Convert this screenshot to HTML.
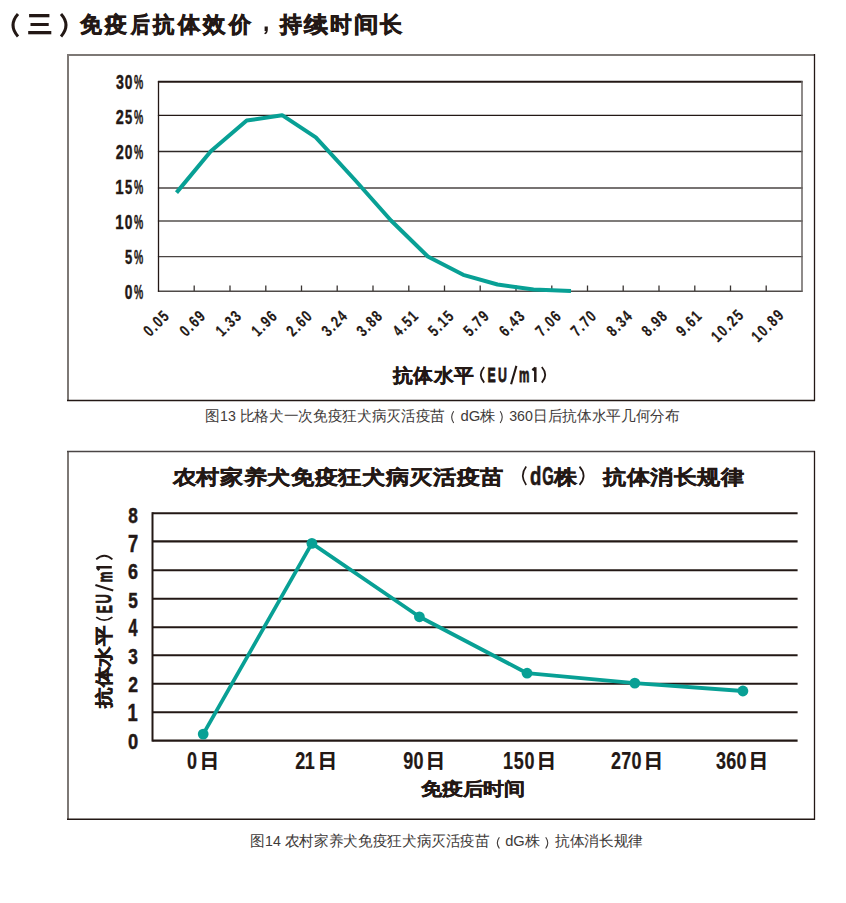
<!DOCTYPE html>
<html><head><meta charset="utf-8"><style>
html,body{margin:0;padding:0;background:#fff;width:846px;height:903px;overflow:hidden}
svg{display:block}
text{font-family:"Liberation Sans",sans-serif}
</style></head><body>
<svg width="846" height="903" viewBox="0 0 846 903">

<path d="M18 14 Q8 25.2 18 36.4" fill="none" stroke="#231815" stroke-width="3"/>
<path d="M61 14 Q71 25.2 61 36.4" fill="none" stroke="#231815" stroke-width="3"/>
<rect x="29.1" y="14" width="20.3" height="3.3" fill="#231815"/>
<rect x="30.5" y="23" width="18.2" height="3" fill="#231815"/>
<rect x="28.2" y="31" width="23.1" height="3.3" fill="#231815"/>
<text transform="translate(80.38,31.70) scale(0.2202,0.2220)" x="0" y="0" font-size="100" font-weight="bold" fill="#231815" stroke="#231815" stroke-width="3.17">免</text>
<text transform="translate(105.32,31.70) scale(0.2214,0.2220)" x="0" y="0" font-size="100" font-weight="bold" fill="#231815" stroke="#231815" stroke-width="3.16">疫</text>
<text transform="translate(130.79,31.70) scale(0.1879,0.2220)" x="0" y="0" font-size="100" font-weight="bold" fill="#231815" stroke="#231815" stroke-width="3.42">后</text>
<text transform="translate(153.43,31.70) scale(0.2149,0.2220)" x="0" y="0" font-size="100" font-weight="bold" fill="#231815" stroke="#231815" stroke-width="3.20">抗</text>
<text transform="translate(177.85,31.70) scale(0.2235,0.2220)" x="0" y="0" font-size="100" font-weight="bold" fill="#231815" stroke="#231815" stroke-width="3.14">体</text>
<text transform="translate(203.22,31.70) scale(0.2248,0.2220)" x="0" y="0" font-size="100" font-weight="bold" fill="#231815" stroke="#231815" stroke-width="3.13">效</text>
<text transform="translate(229.17,31.70) scale(0.2235,0.2220)" x="0" y="0" font-size="100" font-weight="bold" fill="#231815" stroke="#231815" stroke-width="3.14">价</text>
<text transform="translate(280.34,31.70) scale(0.2210,0.2220)" x="0" y="0" font-size="100" font-weight="bold" fill="#231815" stroke="#231815" stroke-width="3.16">持</text>
<text transform="translate(303.74,31.70) scale(0.2400,0.2220)" x="0" y="0" font-size="100" font-weight="bold" fill="#231815" stroke="#231815" stroke-width="3.03">续</text>
<text transform="translate(329.81,31.70) scale(0.2172,0.2220)" x="0" y="0" font-size="100" font-weight="bold" fill="#231815" stroke="#231815" stroke-width="3.19">时</text>
<text transform="translate(354.02,31.70) scale(0.2465,0.2220)" x="0" y="0" font-size="100" font-weight="bold" fill="#231815" stroke="#231815" stroke-width="2.99">间</text>
<text transform="translate(380.10,31.70) scale(0.2232,0.2220)" x="0" y="0" font-size="100" font-weight="bold" fill="#231815" stroke="#231815" stroke-width="3.14">长</text>
<path d="M264.6 26.5 h3.2 v3.2 q0 3.5 -2.8 4.6 l-0.8 -1 q1.6 -0.9 1.7 -2.4 h-1.3 z" fill="#231815"/>
<line x1="68" y1="54" x2="68" y2="401" stroke="#7d7875" stroke-width="2"/>
<line x1="67" y1="55" x2="815" y2="55" stroke="#7d7875" stroke-width="2"/>
<line x1="814.5" y1="54" x2="814.5" y2="401" stroke="#231815" stroke-width="1.3"/>
<line x1="67" y1="400.5" x2="815" y2="400.5" stroke="#231815" stroke-width="1.3"/>
<line x1="157.9" y1="81.7" x2="802.6" y2="81.7" stroke="#231815" stroke-width="2"/>
<line x1="157.9" y1="115.4" x2="802.6" y2="115.4" stroke="#231815" stroke-width="1.4"/>
<line x1="157.9" y1="151.5" x2="802.6" y2="151.5" stroke="#2e2927" stroke-width="1.4"/>
<line x1="157.9" y1="188.0" x2="802.6" y2="188.0" stroke="#4a4543" stroke-width="1.4"/>
<line x1="157.9" y1="221.0" x2="802.6" y2="221.0" stroke="#55504e" stroke-width="1.4"/>
<line x1="157.9" y1="256.6" x2="802.6" y2="256.6" stroke="#4a4543" stroke-width="1.4"/>
<line x1="157.9" y1="291.2" x2="802.6" y2="291.2" stroke="#4f4a48" stroke-width="1.4"/>
<line x1="158.5" y1="81" x2="158.5" y2="291.8" stroke="#231815" stroke-width="1.3"/>
<line x1="802" y1="81" x2="802" y2="291.8" stroke="#6a6563" stroke-width="1.5"/>
<line x1="194.2" y1="285.5" x2="194.2" y2="291" stroke="#3a3533" stroke-width="1.3"/>
<line x1="230.0" y1="285.5" x2="230.0" y2="291" stroke="#3a3533" stroke-width="1.3"/>
<line x1="265.8" y1="285.5" x2="265.8" y2="291" stroke="#3a3533" stroke-width="1.3"/>
<line x1="301.5" y1="285.5" x2="301.5" y2="291" stroke="#3a3533" stroke-width="1.3"/>
<line x1="337.2" y1="285.5" x2="337.2" y2="291" stroke="#3a3533" stroke-width="1.3"/>
<line x1="373.0" y1="285.5" x2="373.0" y2="291" stroke="#3a3533" stroke-width="1.3"/>
<line x1="408.8" y1="285.5" x2="408.8" y2="291" stroke="#3a3533" stroke-width="1.3"/>
<line x1="444.5" y1="285.5" x2="444.5" y2="291" stroke="#3a3533" stroke-width="1.3"/>
<line x1="480.2" y1="285.5" x2="480.2" y2="291" stroke="#3a3533" stroke-width="1.3"/>
<line x1="516.0" y1="285.5" x2="516.0" y2="291" stroke="#3a3533" stroke-width="1.3"/>
<line x1="551.8" y1="285.5" x2="551.8" y2="291" stroke="#3a3533" stroke-width="1.3"/>
<line x1="587.5" y1="285.5" x2="587.5" y2="291" stroke="#3a3533" stroke-width="1.3"/>
<line x1="623.2" y1="285.5" x2="623.2" y2="291" stroke="#3a3533" stroke-width="1.3"/>
<line x1="659.0" y1="285.5" x2="659.0" y2="291" stroke="#3a3533" stroke-width="1.3"/>
<line x1="694.8" y1="285.5" x2="694.8" y2="291" stroke="#3a3533" stroke-width="1.3"/>
<line x1="730.5" y1="285.5" x2="730.5" y2="291" stroke="#3a3533" stroke-width="1.3"/>
<line x1="766.2" y1="285.5" x2="766.2" y2="291" stroke="#3a3533" stroke-width="1.3"/>
<text transform="translate(133.89,89.10) scale(0.1036,0.1971)" x="0" y="0" font-size="100" font-weight="bold" fill="#231815" stroke="#231815" stroke-width="1.99">%</text>
<text transform="translate(124.85,89.11) scale(0.1383,0.1944)" x="0" y="0" font-size="100" font-weight="bold" fill="#231815" stroke="#231815" stroke-width="2.10">0</text>
<text transform="translate(115.92,89.11) scale(0.1420,0.1944)" x="0" y="0" font-size="100" font-weight="bold" fill="#231815" stroke="#231815" stroke-width="2.08">3</text>
<text transform="translate(133.89,124.00) scale(0.1036,0.1971)" x="0" y="0" font-size="100" font-weight="bold" fill="#231815" stroke="#231815" stroke-width="1.99">%</text>
<text transform="translate(125.01,124.00) scale(0.1300,0.1971)" x="0" y="0" font-size="100" font-weight="bold" fill="#231815" stroke="#231815" stroke-width="2.14">5</text>
<text transform="translate(115.77,124.20) scale(0.1449,0.1971)" x="0" y="0" font-size="100" font-weight="bold" fill="#231815" stroke="#231815" stroke-width="2.05">2</text>
<text transform="translate(133.89,159.00) scale(0.1036,0.1971)" x="0" y="0" font-size="100" font-weight="bold" fill="#231815" stroke="#231815" stroke-width="1.99">%</text>
<text transform="translate(124.85,159.01) scale(0.1383,0.1944)" x="0" y="0" font-size="100" font-weight="bold" fill="#231815" stroke="#231815" stroke-width="2.10">0</text>
<text transform="translate(115.77,159.20) scale(0.1449,0.1971)" x="0" y="0" font-size="100" font-weight="bold" fill="#231815" stroke="#231815" stroke-width="2.05">2</text>
<text transform="translate(133.89,193.80) scale(0.1036,0.1971)" x="0" y="0" font-size="100" font-weight="bold" fill="#231815" stroke="#231815" stroke-width="1.99">%</text>
<text transform="translate(125.01,193.80) scale(0.1300,0.1971)" x="0" y="0" font-size="100" font-weight="bold" fill="#231815" stroke="#231815" stroke-width="2.14">5</text>
<text transform="translate(115.29,194.00) scale(0.1511,0.2000)" x="0" y="0" font-size="100" font-weight="bold" fill="#231815" stroke="#231815" stroke-width="1.99">1</text>
<text transform="translate(133.89,229.10) scale(0.1036,0.1971)" x="0" y="0" font-size="100" font-weight="bold" fill="#231815" stroke="#231815" stroke-width="1.99">%</text>
<text transform="translate(124.85,229.11) scale(0.1383,0.1944)" x="0" y="0" font-size="100" font-weight="bold" fill="#231815" stroke="#231815" stroke-width="2.10">0</text>
<text transform="translate(115.29,229.30) scale(0.1511,0.2000)" x="0" y="0" font-size="100" font-weight="bold" fill="#231815" stroke="#231815" stroke-width="1.99">1</text>
<text transform="translate(133.89,263.80) scale(0.1036,0.1971)" x="0" y="0" font-size="100" font-weight="bold" fill="#231815" stroke="#231815" stroke-width="1.99">%</text>
<text transform="translate(125.01,263.80) scale(0.1300,0.1971)" x="0" y="0" font-size="100" font-weight="bold" fill="#231815" stroke="#231815" stroke-width="2.14">5</text>
<text transform="translate(133.89,298.70) scale(0.1036,0.1971)" x="0" y="0" font-size="100" font-weight="bold" fill="#231815" stroke="#231815" stroke-width="1.99">%</text>
<text transform="translate(124.85,298.71) scale(0.1383,0.1944)" x="0" y="0" font-size="100" font-weight="bold" fill="#231815" stroke="#231815" stroke-width="2.10">0</text>
<text transform="translate(156.8,324.2) rotate(-45) scale(0.75,1)" x="0" y="4.5" font-size="16.2" font-weight="bold" fill="#231815" stroke="#231815" stroke-width="0.2" text-anchor="middle" textLength="37.3" lengthAdjust="spacing">0.05</text>
<text transform="translate(192.9,324.2) rotate(-45) scale(0.75,1)" x="0" y="4.5" font-size="16.2" font-weight="bold" fill="#231815" stroke="#231815" stroke-width="0.2" text-anchor="middle" textLength="37.3" lengthAdjust="spacing">0.69</text>
<text transform="translate(228.9,324.2) rotate(-45) scale(0.75,1)" x="0" y="4.5" font-size="16.2" font-weight="bold" fill="#231815" stroke="#231815" stroke-width="0.2" text-anchor="middle" textLength="37.3" lengthAdjust="spacing">1.33</text>
<text transform="translate(264.7,324.2) rotate(-45) scale(0.75,1)" x="0" y="4.5" font-size="16.2" font-weight="bold" fill="#231815" stroke="#231815" stroke-width="0.2" text-anchor="middle" textLength="37.3" lengthAdjust="spacing">1.96</text>
<text transform="translate(299.8,324.2) rotate(-45) scale(0.75,1)" x="0" y="4.5" font-size="16.2" font-weight="bold" fill="#231815" stroke="#231815" stroke-width="0.2" text-anchor="middle" textLength="37.3" lengthAdjust="spacing">2.60</text>
<text transform="translate(335.0,324.2) rotate(-45) scale(0.75,1)" x="0" y="4.5" font-size="16.2" font-weight="bold" fill="#231815" stroke="#231815" stroke-width="0.2" text-anchor="middle" textLength="37.3" lengthAdjust="spacing">3.24</text>
<text transform="translate(370.0,324.2) rotate(-45) scale(0.75,1)" x="0" y="4.5" font-size="16.2" font-weight="bold" fill="#231815" stroke="#231815" stroke-width="0.2" text-anchor="middle" textLength="37.3" lengthAdjust="spacing">3.88</text>
<text transform="translate(405.9,324.2) rotate(-45) scale(0.75,1)" x="0" y="4.5" font-size="16.2" font-weight="bold" fill="#231815" stroke="#231815" stroke-width="0.2" text-anchor="middle" textLength="37.3" lengthAdjust="spacing">4.51</text>
<text transform="translate(441.5,324.2) rotate(-45) scale(0.75,1)" x="0" y="4.5" font-size="16.2" font-weight="bold" fill="#231815" stroke="#231815" stroke-width="0.2" text-anchor="middle" textLength="37.3" lengthAdjust="spacing">5.15</text>
<text transform="translate(476.6,324.2) rotate(-45) scale(0.75,1)" x="0" y="4.5" font-size="16.2" font-weight="bold" fill="#231815" stroke="#231815" stroke-width="0.2" text-anchor="middle" textLength="37.3" lengthAdjust="spacing">5.79</text>
<text transform="translate(512.4,324.2) rotate(-45) scale(0.75,1)" x="0" y="4.5" font-size="16.2" font-weight="bold" fill="#231815" stroke="#231815" stroke-width="0.2" text-anchor="middle" textLength="37.3" lengthAdjust="spacing">6.43</text>
<text transform="translate(548.8,324.2) rotate(-45) scale(0.75,1)" x="0" y="4.5" font-size="16.2" font-weight="bold" fill="#231815" stroke="#231815" stroke-width="0.2" text-anchor="middle" textLength="37.3" lengthAdjust="spacing">7.06</text>
<text transform="translate(584.0,324.2) rotate(-45) scale(0.75,1)" x="0" y="4.5" font-size="16.2" font-weight="bold" fill="#231815" stroke="#231815" stroke-width="0.2" text-anchor="middle" textLength="37.3" lengthAdjust="spacing">7.70</text>
<text transform="translate(619.9,324.2) rotate(-45) scale(0.75,1)" x="0" y="4.5" font-size="16.2" font-weight="bold" fill="#231815" stroke="#231815" stroke-width="0.2" text-anchor="middle" textLength="37.3" lengthAdjust="spacing">8.34</text>
<text transform="translate(655.0,324.2) rotate(-45) scale(0.75,1)" x="0" y="4.5" font-size="16.2" font-weight="bold" fill="#231815" stroke="#231815" stroke-width="0.2" text-anchor="middle" textLength="37.3" lengthAdjust="spacing">8.98</text>
<text transform="translate(689.4,324.2) rotate(-45) scale(0.75,1)" x="0" y="4.5" font-size="16.2" font-weight="bold" fill="#231815" stroke="#231815" stroke-width="0.2" text-anchor="middle" textLength="37.3" lengthAdjust="spacing">9.61</text>
<text transform="translate(727.8,326.5) rotate(-45) scale(0.75,1)" x="0" y="4.5" font-size="16.2" font-weight="bold" fill="#231815" stroke="#231815" stroke-width="0.2" text-anchor="middle" textLength="50.0" lengthAdjust="spacing">10.25</text>
<text transform="translate(768.1,326.5) rotate(-45) scale(0.75,1)" x="0" y="4.5" font-size="16.2" font-weight="bold" fill="#231815" stroke="#231815" stroke-width="0.2" text-anchor="middle" textLength="50.0" lengthAdjust="spacing">10.89</text>
<text transform="translate(393,382.2) scale(1,0.95)" x="0" y="0" font-size="20" font-weight="bold" fill="#231815" textLength="81" lengthAdjust="spacingAndGlyphs" stroke="#231815" stroke-width="0.4">抗体水平</text>
<path d="M484.2 367 Q477.4 374.85 484.2 382.7" fill="none" stroke="#231815" stroke-width="1.8"/>
<path d="M541.8 367 Q548.6 374.85 541.8 382.7" fill="none" stroke="#231815" stroke-width="1.8"/>
<text transform="translate(487.44,381.90) scale(0.1232,0.2101)" x="0" y="0" font-size="100" font-weight="bold" fill="#231815" stroke="#231815" stroke-width="3.60">E</text>
<text transform="translate(497.96,381.99) scale(0.1233,0.2114)" x="0" y="0" font-size="100" font-weight="bold" fill="#231815" stroke="#231815" stroke-width="3.58">U</text>
<line x1="511.1" y1="384.3" x2="516.4" y2="365.9" stroke="#231815" stroke-width="2.1"/>
<text transform="translate(519.08,381.90) scale(0.1171,0.1981)" x="0" y="0" font-size="100" font-weight="bold" fill="#231815" stroke="#231815" stroke-width="4.44">m</text>
<path d="M535.3 367.3 V382 M532.4 370.2 L535.3 367.8" fill="none" stroke="#231815" stroke-width="2.5"/>
<polyline points="176.5,192.6 210.8,151.3 246.7,120.6 282.1,115.2 315.8,137.3 355,180 391,220.5 427.8,256.5 463.2,274.8 497.5,284.5 533.5,289.5 571,291" fill="none" stroke="#08a095" stroke-width="4" stroke-linejoin="round"/>
<text x="205.4" y="420.8" font-size="14.5" fill="#3e3a39" textLength="239.7" lengthAdjust="spacingAndGlyphs">图13 比格犬一次免疫狂犬病灭活疫苗</text>
<path d="M453.7 411.3 Q449.6 417.15 453.7 423" fill="none" stroke="#3e3a39" stroke-width="1.1"/>
<text x="460.5" y="420.8" font-size="14.5" fill="#3e3a39" textLength="35.1" lengthAdjust="spacingAndGlyphs">dG株</text>
<path d="M500.2 411.3 Q504.3 417.15 500.2 423" fill="none" stroke="#3e3a39" stroke-width="1.1"/>
<text x="509.2" y="420.8" font-size="14.5" fill="#3e3a39" textLength="170.4" lengthAdjust="spacingAndGlyphs">360日后抗体水平几何分布</text>
<line x1="68" y1="451" x2="68" y2="820" stroke="#7d7875" stroke-width="2"/>
<line x1="67" y1="451.5" x2="815" y2="451.5" stroke="#4a4546" stroke-width="1.5"/>
<line x1="814.5" y1="451" x2="814.5" y2="820" stroke="#231815" stroke-width="1.3"/>
<line x1="67" y1="819.2" x2="815" y2="819.2" stroke="#231815" stroke-width="1.6"/>
<text transform="translate(172.5,483.5) scale(1,0.87)" x="0" y="0" font-size="23.5" font-weight="bold" fill="#231815" textLength="331.5" lengthAdjust="spacingAndGlyphs" stroke="#231815" stroke-width="0.4">农村家养犬免疫狂犬病灭活疫苗</text>
<path d="M526.2 466.6 Q519.4 475.75 526.2 484.9" fill="none" stroke="#231815" stroke-width="1.7"/>
<text transform="translate(530.06,484.70) scale(0.1860,0.2548)" x="0" y="0" font-size="100" font-weight="bold" fill="#231815" stroke="#231815" stroke-width="2.27">d</text>
<text transform="translate(542.21,484.94) scale(0.1485,0.2592)" x="0" y="0" font-size="100" font-weight="bold" fill="#231815" stroke="#231815" stroke-width="2.45">G</text>
<text transform="translate(554,483.5) scale(1,0.87)" x="0" y="0" font-size="23.5" font-weight="bold" fill="#231815" textLength="23.5" lengthAdjust="spacingAndGlyphs" stroke="#231815" stroke-width="0.4">株</text>
<path d="M579.5 466.6 Q587.7 475.75 579.5 484.9" fill="none" stroke="#231815" stroke-width="1.7"/>
<text transform="translate(603,483.5) scale(1,0.87)" x="0" y="0" font-size="23.5" font-weight="bold" fill="#231815" textLength="141.5" lengthAdjust="spacingAndGlyphs" stroke="#231815" stroke-width="0.4">抗体消长规律</text>
<line x1="152.5" y1="513.2" x2="797.6" y2="513.2" stroke="#231815" stroke-width="2.1"/>
<line x1="152.5" y1="541.4" x2="797.6" y2="541.4" stroke="#231815" stroke-width="2.1"/>
<line x1="152.5" y1="570.3" x2="797.6" y2="570.3" stroke="#231815" stroke-width="2.1"/>
<line x1="152.5" y1="598.8" x2="797.6" y2="598.8" stroke="#231815" stroke-width="2.1"/>
<line x1="152.5" y1="627.2" x2="797.6" y2="627.2" stroke="#231815" stroke-width="2.1"/>
<line x1="152.5" y1="655.3" x2="797.6" y2="655.3" stroke="#231815" stroke-width="2.1"/>
<line x1="152.5" y1="683.8" x2="797.6" y2="683.8" stroke="#231815" stroke-width="2.1"/>
<line x1="152.5" y1="712.2" x2="797.6" y2="712.2" stroke="#231815" stroke-width="2.1"/>
<line x1="152.5" y1="740.6" x2="797.6" y2="740.6" stroke="#231815" stroke-width="2.1"/>
<line x1="152.5" y1="512.2" x2="152.5" y2="741.6" stroke="#231815" stroke-width="2"/>
<text transform="translate(128.18,522.83) scale(0.1720,0.2239)" x="0" y="0" font-size="100" font-weight="bold" fill="#231815" stroke="#231815" stroke-width="2.27">8</text>
<text transform="translate(127.97,551.83) scale(0.1830,0.2338)" x="0" y="0" font-size="100" font-weight="bold" fill="#231815" stroke="#231815" stroke-width="2.16">7</text>
<text transform="translate(127.98,579.28) scale(0.1792,0.2239)" x="0" y="0" font-size="100" font-weight="bold" fill="#231815" stroke="#231815" stroke-width="2.23">6</text>
<text transform="translate(128.18,607.72) scale(0.1720,0.2271)" x="0" y="0" font-size="100" font-weight="bold" fill="#231815" stroke="#231815" stroke-width="2.25">5</text>
<text transform="translate(128.38,635.75) scale(0.1623,0.2304)" x="0" y="0" font-size="100" font-weight="bold" fill="#231815" stroke="#231815" stroke-width="2.29">4</text>
<text transform="translate(128.36,664.18) scale(0.1720,0.2239)" x="0" y="0" font-size="100" font-weight="bold" fill="#231815" stroke="#231815" stroke-width="2.27">3</text>
<text transform="translate(128.17,692.30) scale(0.1755,0.2271)" x="0" y="0" font-size="100" font-weight="bold" fill="#231815" stroke="#231815" stroke-width="2.24">2</text>
<text transform="translate(127.60,721.00) scale(0.1830,0.2304)" x="0" y="0" font-size="100" font-weight="bold" fill="#231815" stroke="#231815" stroke-width="2.18">1</text>
<text transform="translate(127.97,748.68) scale(0.1830,0.2239)" x="0" y="0" font-size="100" font-weight="bold" fill="#231815" stroke="#231815" stroke-width="2.21">0</text>
<text transform="translate(110.2,708) rotate(-90) scale(1,0.915)" x="0" y="0" font-size="20" font-weight="bold" fill="#231815" stroke="#231815" stroke-width="0.5" textLength="82.7" lengthAdjust="spacingAndGlyphs">抗体水平</text>
<path d="M96.2 617.1 Q104.3 623.3 112.4 617.1" fill="none" stroke="#231815" stroke-width="1.8"/>
<path d="M96.2 559.3 Q104.3 552.1 112.4 559.3" fill="none" stroke="#231815" stroke-width="1.8"/>
<text transform="translate(111.60,613.34) rotate(-90) scale(0.1196,0.2174)" x="0" y="0" font-size="100" font-weight="bold" fill="#231815" stroke="#231815" stroke-width="3.56">E</text>
<text transform="translate(111.39,603.57) rotate(-90) scale(0.1283,0.2143)" x="0" y="0" font-size="100" font-weight="bold" fill="#231815" stroke="#231815" stroke-width="3.50">U</text>
<line x1="95.4" y1="584.9" x2="113.2" y2="590.6" stroke="#231815" stroke-width="2.1"/>
<text transform="translate(111.60,582.14) rotate(-90) scale(0.1197,0.2056)" x="0" y="0" font-size="100" font-weight="bold" fill="#231815" stroke="#231815" stroke-width="4.30">m</text>
<path d="M96.4 567.2 H111.8 M99.2 570.1 L96.9 567.2" fill="none" stroke="#231815" stroke-width="2.5"/>
<polyline points="203.2,734.1 311.9,543.4 419.4,616.8 527.1,673.2 634.8,683.1 742.9,691" fill="none" stroke="#08a095" stroke-width="3.8" stroke-linejoin="round"/>
<circle cx="203.2" cy="734.1" r="5.4" fill="#08a095"/>
<circle cx="311.9" cy="543.4" r="5.4" fill="#08a095"/>
<circle cx="419.4" cy="616.8" r="5.4" fill="#08a095"/>
<circle cx="527.1" cy="673.2" r="5.4" fill="#08a095"/>
<circle cx="634.8" cy="683.1" r="5.4" fill="#08a095"/>
<circle cx="742.9" cy="691" r="5.4" fill="#08a095"/>
<text transform="translate(187.0,768.6) scale(0.74,1)" x="0" y="0" font-size="24.3" font-weight="bold" fill="#231815" stroke="#231815" stroke-width="0.25" textLength="14.3" lengthAdjust="spacing">0</text>
<text x="200.0" y="767" font-size="19.2" font-weight="bold" fill="#231815" stroke="#231815" stroke-width="0.45">日</text>
<text transform="translate(295.2,768.6) scale(0.74,1)" x="0" y="0" font-size="24.3" font-weight="bold" fill="#231815" stroke="#231815" stroke-width="0.25" textLength="26.6" lengthAdjust="spacing">21</text>
<text x="317.9" y="767" font-size="19.2" font-weight="bold" fill="#231815" stroke="#231815" stroke-width="0.45">日</text>
<text transform="translate(403.2,768.6) scale(0.74,1)" x="0" y="0" font-size="24.3" font-weight="bold" fill="#231815" stroke="#231815" stroke-width="0.25" textLength="27.6" lengthAdjust="spacing">90</text>
<text x="425.9" y="767" font-size="19.2" font-weight="bold" fill="#231815" stroke="#231815" stroke-width="0.45">日</text>
<text transform="translate(503.1,768.6) scale(0.74,1)" x="0" y="0" font-size="24.3" font-weight="bold" fill="#231815" stroke="#231815" stroke-width="0.25" textLength="42.4" lengthAdjust="spacing">150</text>
<text x="537.2" y="767" font-size="19.2" font-weight="bold" fill="#231815" stroke="#231815" stroke-width="0.45">日</text>
<text transform="translate(610.9,768.6) scale(0.74,1)" x="0" y="0" font-size="24.3" font-weight="bold" fill="#231815" stroke="#231815" stroke-width="0.25" textLength="41.5" lengthAdjust="spacing">270</text>
<text x="644.2" y="767" font-size="19.2" font-weight="bold" fill="#231815" stroke="#231815" stroke-width="0.45">日</text>
<text transform="translate(715.9,768.6) scale(0.74,1)" x="0" y="0" font-size="24.3" font-weight="bold" fill="#231815" stroke="#231815" stroke-width="0.25" textLength="41.5" lengthAdjust="spacing">360</text>
<text x="748.9" y="767" font-size="19.2" font-weight="bold" fill="#231815" stroke="#231815" stroke-width="0.45">日</text>
<text transform="translate(421,794.5) scale(1,0.88)" x="0" y="0" font-size="20.5" font-weight="bold" fill="#231815" textLength="104" lengthAdjust="spacingAndGlyphs" stroke="#231815" stroke-width="0.4">免疫后时间</text>
<text x="250.4" y="845.6" font-size="14.5" fill="#3e3a39" textLength="239.4" lengthAdjust="spacingAndGlyphs">图14 农村家养犬免疫狂犬病灭活疫苗</text>
<path d="M499.4 837.3 Q495.3 842.9 499.4 848.5" fill="none" stroke="#3e3a39" stroke-width="1.1"/>
<text x="505.2" y="845.6" font-size="14.5" fill="#3e3a39" textLength="34.7" lengthAdjust="spacingAndGlyphs">dG株</text>
<path d="M545.7 837.3 Q549.8 842.9 545.7 848.5" fill="none" stroke="#3e3a39" stroke-width="1.1"/>
<text x="554.8" y="845.6" font-size="14.5" fill="#3e3a39" textLength="88.3" lengthAdjust="spacingAndGlyphs">抗体消长规律</text>
</svg></body></html>
